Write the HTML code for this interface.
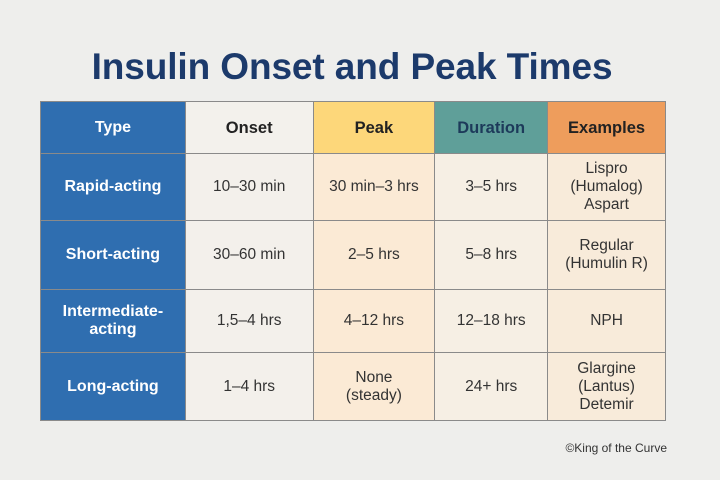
<!DOCTYPE html>
<html><head><style>
body{margin:0;width:720px;height:480px;background:#eeeeec;font-family:"Liberation Sans",sans-serif;position:relative;overflow:hidden}
h1{position:absolute;top:46px;left:-8px;width:720px;text-align:center;margin:0;font-size:37px;color:#1c3a6b;font-weight:bold;letter-spacing:-0.1px}
table{position:absolute;left:40px;top:101px;border-collapse:collapse;width:626px}
td{border:1.5px solid #8a8a8a;text-align:center;font-size:15.5px;color:#333;padding:0;line-height:18px}
tr.h td{height:51px;font-weight:bold;font-size:16.5px;color:#222}
tr.h td.t,td.t{background:#2f6eb0;color:#fff;font-weight:bold;font-size:16px}
.c1{background:#f3f0eb}.c2{background:#fbead5}.c3{background:#f6efe4}.c4{background:#f8ebda}
.foot{position:absolute;right:53px;top:441px;font-size:12px;color:#333}
</style></head><body>
<h1>Insulin Onset and Peak Times</h1>
<table>
<colgroup><col style="width:145px"><col style="width:128px"><col style="width:122px"><col style="width:113px"><col style="width:118px"></colgroup>
<tr class="h"><td class="t">Type</td><td style="background:#f3f1ec">Onset</td><td style="background:#fdd77a">Peak</td><td style="background:#5f9f99;color:#1d3a5a">Duration</td><td style="background:#ee9d5c">Examples</td></tr>
<tr style="height:67px"><td class="t">Rapid-acting</td><td class="c1">10–30 min</td><td class="c2">30 min–3 hrs</td><td class="c3">3–5 hrs</td><td class="c4">Lispro<br>(Humalog)<br>Aspart</td></tr>
<tr style="height:69px"><td class="t">Short-acting</td><td class="c1">30–60 min</td><td class="c2">2–5 hrs</td><td class="c3">5–8 hrs</td><td class="c4">Regular<br>(Humulin R)</td></tr>
<tr style="height:63px"><td class="t">Intermediate-<br>acting</td><td class="c1">1,5–4 hrs</td><td class="c2">4–12 hrs</td><td class="c3">12–18 hrs</td><td class="c4">NPH</td></tr>
<tr style="height:68px"><td class="t">Long-acting</td><td class="c1">1–4 hrs</td><td class="c2">None<br>(steady)</td><td class="c3">24+ hrs</td><td class="c4">Glargine<br>(Lantus)<br>Detemir</td></tr>
</table>
<div class="foot">©King of the Curve</div>
</body></html>
